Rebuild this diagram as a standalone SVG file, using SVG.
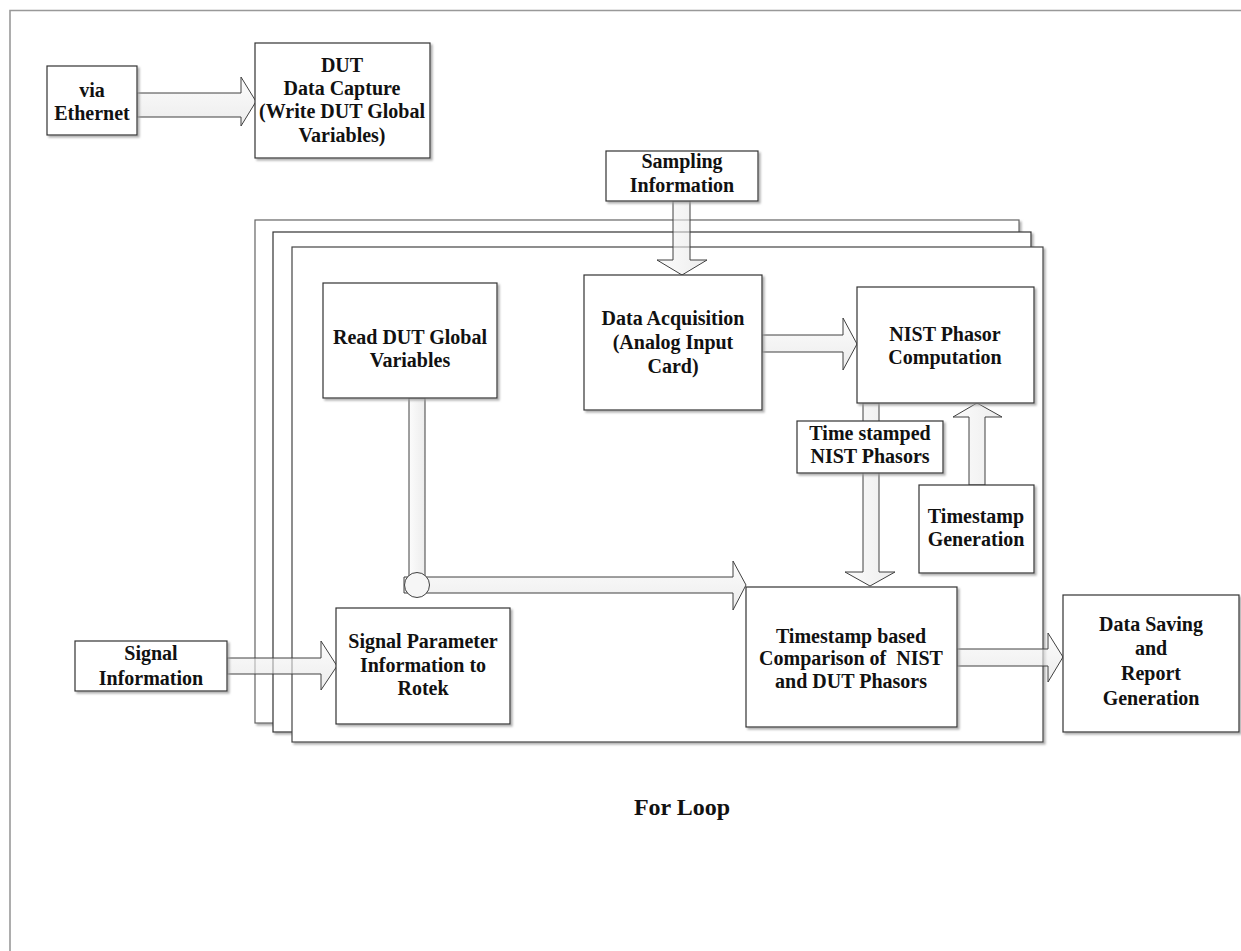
<svg xmlns="http://www.w3.org/2000/svg" width="1241" height="951" viewBox="0 0 1241 951">
<style>
  .frame-out{fill:none;stroke:#999;stroke-width:1.6}
  .frame{fill:#fff;stroke:#444;stroke-width:1.2}
  .box{fill:#fff;stroke:#333;stroke-width:1.2;filter:url(#sh)}
  .arrow{fill:url(#gv);fill-opacity:0.6;stroke:#404040;stroke-width:1}
  .varrow{fill:url(#gh);fill-opacity:0.6;stroke:#404040;stroke-width:1}
  text{font-family:"Liberation Serif","Times New Roman",serif;font-weight:bold;font-size:20px;fill:#111;text-anchor:middle}
</style>
<defs>
  <filter id="sh" x="-5%" y="-5%" width="115%" height="115%">
    <feDropShadow dx="2" dy="2" stdDeviation="0.8" flood-color="#999" flood-opacity="0.8"/>
  </filter>
  <linearGradient id="gv" x1="0" y1="0" x2="0" y2="1">
    <stop offset="0" stop-color="#fafafa"/>
    <stop offset="1" stop-color="#e0e0e0"/>
  </linearGradient>
  <linearGradient id="gh" x1="0" y1="0" x2="1" y2="0">
    <stop offset="0" stop-color="#fafafa"/>
    <stop offset="1" stop-color="#e0e0e0"/>
  </linearGradient>
</defs>
<rect width="1241" height="951" fill="#fff"/>
<!-- outer frame -->
<path class="frame-out" d="M10,951 V10.5 H1241"/>

<!-- stacked loop frames -->
<g id="forloop">
  <rect class="frame" x="255" y="220" width="764" height="503" style="stroke:#666;filter:url(#sh)"/>
  <rect class="frame" x="273" y="232" width="758" height="500" style="stroke:#333;filter:url(#sh)"/>
  <rect class="frame" x="292" y="247" width="751" height="495" style="filter:url(#sh)"/>
  <text x="682" y="815" style="font-size:24px">For Loop</text>
</g>

<g id="connectors">
  <path class="arrow" d="M137,93 H241 V77 L256,101.5 L241,126 V117 H137 Z"/>
  <path class="varrow" d="M673,201 V260 H657 L682,275 L707,260 H690 V201 Z"/>
  <path class="arrow" d="M762,335 H843 V318 L857,344 L843,370 V352 H762 Z"/>
  <path class="varrow" d="M863,403 V572 H845 L870,586 L895,572 H879 V403 Z"/>
  <path class="varrow" d="M969,485 V417 H953 L977,403 L1002,417 H985 V485 Z"/>
  <path class="varrow" d="M409,398 V585 H425 V398 Z"/>
  <path class="arrow" d="M404,577 H733 V561 L746,585 L733,610 V593 H404 Z"/>
  <circle cx="417" cy="585" r="12.5" fill="#f6f6f6" stroke="#404040" stroke-width="1"/>
  <path class="arrow" d="M957,649 H1048 V633 L1063,657 L1048,682 V666 H957 Z"/>
  <path class="arrow" d="M227,658 H321 V641 L337,666 L321,690 V674 H227 Z"/>
</g>

<g id="via-ethernet">
  <rect class="box" x="47" y="66" width="90" height="69"/>
  <text x="92" y="97">via</text>
  <text x="92" y="120">Ethernet</text>
</g>
<g id="dut-capture">
  <rect class="box" x="255" y="43" width="175" height="115"/>
  <text x="342" y="72">DUT</text>
  <text x="342" y="95">Data Capture</text>
  <text x="342" y="118">(Write DUT Global</text>
  <text x="342" y="142">Variables)</text>
</g>
<g id="sampling-info">
  <rect class="box" x="606" y="151" width="152" height="50"/>
  <text x="682" y="168">Sampling</text>
  <text x="682" y="192">Information</text>
</g>
<g id="read-dut">
  <rect class="box" x="323" y="283" width="174" height="115"/>
  <text x="410" y="344">Read DUT Global</text>
  <text x="410" y="367">Variables</text>
</g>
<g id="data-acq">
  <rect class="box" x="584" y="275" width="178" height="135"/>
  <text x="673" y="325">Data Acquisition</text>
  <text x="673" y="349">(Analog Input</text>
  <text x="673" y="373">Card)</text>
</g>
<g id="nist-phasor">
  <rect class="box" x="857" y="287" width="177" height="116"/>
  <text x="945" y="341">NIST Phasor</text>
  <text x="945" y="364">Computation</text>
</g>
<g id="time-stamped">
  <rect class="box" x="797" y="421" width="146" height="52"/>
  <text x="870" y="440">Time stamped</text>
  <text x="870" y="463">NIST Phasors</text>
</g>
<g id="timestamp-gen">
  <rect class="box" x="919" y="485" width="115" height="88"/>
  <text x="976" y="523">Timestamp</text>
  <text x="976" y="546">Generation</text>
</g>
<g id="comparison">
  <rect class="box" x="746" y="587" width="211" height="140"/>
  <text x="851" y="643">Timestamp based</text>
  <text x="851" y="665" xml:space="preserve">Comparison of  NIST</text>
  <text x="851" y="688">and DUT Phasors</text>
</g>
<g id="signal-info">
  <rect class="box" x="75" y="641" width="152" height="50"/>
  <text x="151" y="660">Signal</text>
  <text x="151" y="685">Information</text>
</g>
<g id="signal-param">
  <rect class="box" x="336" y="608" width="174" height="116"/>
  <text x="423" y="648">Signal Parameter</text>
  <text x="423" y="672">Information to</text>
  <text x="423" y="695">Rotek</text>
</g>
<g id="data-saving">
  <rect class="box" x="1063" y="595" width="176" height="137"/>
  <text x="1151" y="631">Data Saving</text>
  <text x="1151" y="655">and</text>
  <text x="1151" y="680">Report</text>
  <text x="1151" y="705">Generation</text>
</g>
</svg>
